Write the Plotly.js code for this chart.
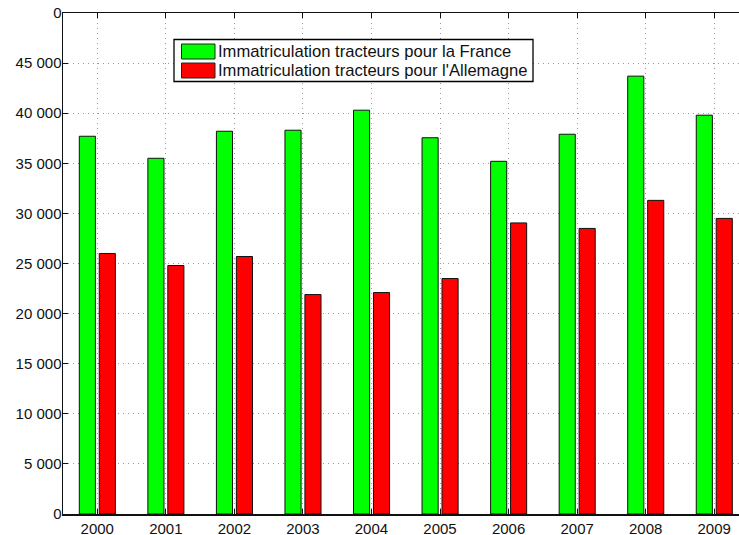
<!DOCTYPE html>
<html>
<head>
<meta charset="utf-8">
<script src="https://cdn.plot.ly/plotly-3.0.1.min.js"></script>
<style>html,body{margin:0;padding:0;background:#fff;}#chart{width:739px;height:535px;}</style>
</head>
<body>
<div id="chart"></div>
<script>
const years = [2000, 2001, 2002, 2003, 2004, 2005, 2006, 2007, 2008, 2009];
const france = [37700, 35500, 38200, 38300, 40300, 37550, 35200, 37900, 43700, 39800];
const allemagne = [26000, 24800, 25700, 21900, 22100, 23500, 29050, 28500, 31300, 29500];
const seriesNames = ["Immatriculation tracteurs pour la France", "Immatriculation tracteurs pour l'Allemagne"];
const seriesColors = ["#00ff00", "#ff0000"];
const yTickVals = [0, 5000, 10000, 15000, 20000, 25000, 30000, 35000, 40000, 45000, 50000];
const yTickText = ["0", "5 000", "10 000", "15 000", "20 000", "25 000", "30 000", "35 000", "40 000", "45 000", "0"];

const W = 739, H = 535;
const M = {l: 63, r: 0, t: 13, b: 21};
const pw = W - M.l - M.r, ph = H - M.t - M.b;
const px2x = p => (p - M.l) / pw;
const py2y = p => 1 - (p - M.t) / ph;

const traces = [
  {type: 'bar', x: years, y: france, name: seriesNames[0], width: 0.235, offset: -0.262,
   marker: {color: seriesColors[0], line: {color: '#111', width: 1}}, showlegend: false, hoverinfo: 'x+y'},
  {type: 'bar', x: years, y: allemagne, name: seriesNames[1], width: 0.235, offset: 0.029,
   marker: {color: seriesColors[1], line: {color: '#111', width: 1}}, showlegend: false, hoverinfo: 'x+y'}
];

// legend drawn with shapes + annotations
const lg = {x0: 174, x1: 533, y0: 39.5, y1: 81.5};
const rows = [51.5, 70.5];
const shapes = [
  {type: 'rect', xref: 'paper', yref: 'paper', x0: px2x(lg.x0), x1: px2x(lg.x1), y0: py2y(lg.y1), y1: py2y(lg.y0),
   fillcolor: '#fff', line: {color: '#000', width: 1.3}, layer: 'above'}
];
const annotations = [];
rows.forEach((cy, i) => {
  shapes.push({type: 'rect', xref: 'paper', yref: 'paper', x0: px2x(181.5), x1: px2x(215), y0: py2y(cy + 7.5), y1: py2y(cy - 7.5),
    fillcolor: seriesColors[i], line: {color: '#222', width: 1}, layer: 'above'});
  annotations.push({xref: 'paper', yref: 'paper', x: px2x(216), y: py2y(cy), xanchor: 'left', yanchor: 'middle',
    text: seriesNames[i], showarrow: false, font: {family: 'Liberation Sans, Arial, sans-serif', size: 16.6, color: '#111'}});
});

const gridDash = '1px,4px';
const layout = {
  width: W, height: H,
  margin: M,
  paper_bgcolor: '#fff', plot_bgcolor: '#fff',
  barmode: 'overlay',
  font: {family: 'Liberation Sans, Arial, sans-serif', size: 15, color: '#111'},
  xaxis: {
    range: [1999.5, 1999.5 + pw / 68.55], tickvals: years, ticktext: years.map(String),
    showline: true, linecolor: '#111', linewidth: 1.5, mirror: 'ticks',
    ticks: 'inside', ticklen: 5, tickcolor: '#111', tickwidth: 1,
    showgrid: true, gridcolor: '#999', griddash: gridDash, gridwidth: 1, zeroline: false,
    fixedrange: true
  },
  yaxis: {
    range: [0, 50000], tickvals: yTickVals, ticktext: yTickText,
    showline: true, linecolor: '#111', linewidth: 1.5,
    ticks: 'inside', ticklen: 5, tickcolor: '#111', tickwidth: 1, ticklabelstandoff: -3,
    showgrid: true, gridcolor: '#999', griddash: gridDash, gridwidth: 1, zeroline: false,
    fixedrange: true
  },
  shapes: shapes,
  annotations: annotations,
  showlegend: false
};

Plotly.newPlot('chart', traces, layout, {displayModeBar: false, staticPlot: true});
</script>
</body>
</html>
